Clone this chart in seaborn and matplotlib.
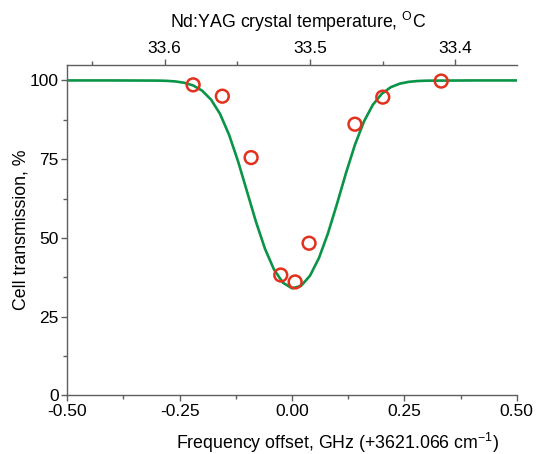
import numpy as np
import pandas as pd
import matplotlib
matplotlib.use("Agg")
import matplotlib.pyplot as plt
import seaborn as sns
from matplotlib.ticker import FixedLocator, MultipleLocator, FormatStrFormatter

# ---- data ----
meas_freq = [-0.220, -0.155, -0.091, -0.025, 0.007, 0.038, 0.140, 0.202, 0.332]
meas_trans = [98.6, 95.0, 75.5, 38.2, 36.0, 48.3, 86.1, 94.7, 99.8]

fit_freq = [-0.50, -0.40, -0.30, -0.28, -0.26, -0.24, -0.22, -0.20, -0.18, -0.16,
            -0.14, -0.12, -0.10, -0.08, -0.06, -0.04, -0.02, 0.00, 0.02, 0.04,
            0.06, 0.08, 0.10, 0.12, 0.14, 0.16, 0.18, 0.20, 0.22, 0.24,
            0.26, 0.28, 0.30, 0.40, 0.50]
fit_trans = [100.0, 100.0, 99.95, 99.88, 99.69, 99.27, 98.41, 96.76, 93.89, 89.33,
             82.73, 74.30, 64.68, 55.03, 46.49, 39.93, 35.74, 33.99, 34.73, 37.97,
             43.60, 51.43, 60.73, 70.53, 79.54, 86.93, 92.29, 95.79, 97.87, 98.99,
             99.56, 99.82, 99.93, 100.0, 100.0]

x_ticks = [-0.50, -0.25, 0.00, 0.25, 0.50]
y_ticks = [0, 25, 50, 75, 100]
temp_ticks = [33.6, 33.5, 33.4]
temp_minor = [33.65, 33.55, 33.45]

T_REF, F_REF, GHZ_PER_C = 33.5, 0.040, 3.236

meas = pd.DataFrame({"freq": meas_freq, "trans": meas_trans})
fit = pd.DataFrame({"freq": fit_freq, "trans": fit_trans})

sns.set_theme(style="ticks")
plt.rcParams["font.family"] = ["Liberation Sans", "DejaVu Sans"]
plt.rcParams["mathtext.fontset"] = "custom"
plt.rcParams["mathtext.rm"] = "Liberation Sans"
plt.rcParams["mathtext.it"] = "Liberation Sans:italic"
plt.rcParams["mathtext.bf"] = "Liberation Sans:bold"

spine_col = "#5e5e5e"
fs_tick = 12.5
fs_lab = 12.8

fig = plt.figure(figsize=(5.44, 4.54), dpi=100)
ax = fig.add_axes([67.3 / 544, 1 - 395.3 / 454, 449.4 / 544, (395.3 - 64.7) / 454])

sns.lineplot(data=fit, x="freq", y="trans", ax=ax, color="#0a9447", lw=1.9,
             sort=False, zorder=2)
sns.scatterplot(data=meas, x="freq", y="trans", ax=ax, s=85, marker="o",
                facecolor="none", edgecolor="#e2311d", linewidth=1.8, zorder=3)

ax.set_xlim(-0.5, 0.5)
ax.set_ylim(0, 105)
ax.xaxis.set_major_locator(FixedLocator(x_ticks))
ax.xaxis.set_minor_locator(MultipleLocator(0.125))
ax.xaxis.set_major_formatter(FormatStrFormatter("%.2f"))
ax.yaxis.set_major_locator(FixedLocator(y_ticks))
ax.yaxis.set_minor_locator(MultipleLocator(12.5))

for s in ["left", "bottom"]:
    ax.spines[s].set_color(spine_col)
    ax.spines[s].set_linewidth(1.0)
ax.spines["right"].set_visible(False)
ax.spines["top"].set_visible(False)

ax.tick_params(which="major", direction="out", length=4.3, width=1.0,
               color=spine_col, labelsize=fs_tick, labelcolor="black", pad=2.0)
ax.tick_params(which="minor", direction="out", length=2.8, width=1.0, color=spine_col)

ax.set_xlabel("Frequency offset, GHz (+3621.066 cm$^{-1}$)", fontsize=fs_lab, color="black")
ax.set_ylabel("Cell transmission, %", fontsize=fs_lab, color="black")
ax.xaxis.set_label_coords(0.602, -0.108)
ax.yaxis.set_label_coords(-0.085, 0.5)


def f2T(f):
    return T_REF - (np.asarray(f) - F_REF) / GHZ_PER_C


def T2f(T):
    return F_REF + (T_REF - np.asarray(T)) * GHZ_PER_C


sec = ax.secondary_xaxis("top", functions=(f2T, T2f))
sec.xaxis.set_major_locator(FixedLocator(temp_ticks))
sec.xaxis.set_minor_locator(FixedLocator(temp_minor))
sec.xaxis.set_major_formatter(FormatStrFormatter("%.1f"))
sec.spines["top"].set_color(spine_col)
sec.spines["top"].set_linewidth(1.0)
sec.tick_params(which="major", direction="out", length=4.3, width=1.0,
                color=spine_col, labelsize=fs_tick, labelcolor="black", pad=2.0)
sec.tick_params(which="minor", direction="out", length=2.8, width=1.0, color=spine_col)

fig.text(298 / 544, 1 - 28 / 454, "Nd:YAG crystal temperature, $^{\\mathrm{O}}$C",
         fontsize=fs_lab, color="black", ha="center", va="baseline")

fig.savefig("out.png", dpi=100)
